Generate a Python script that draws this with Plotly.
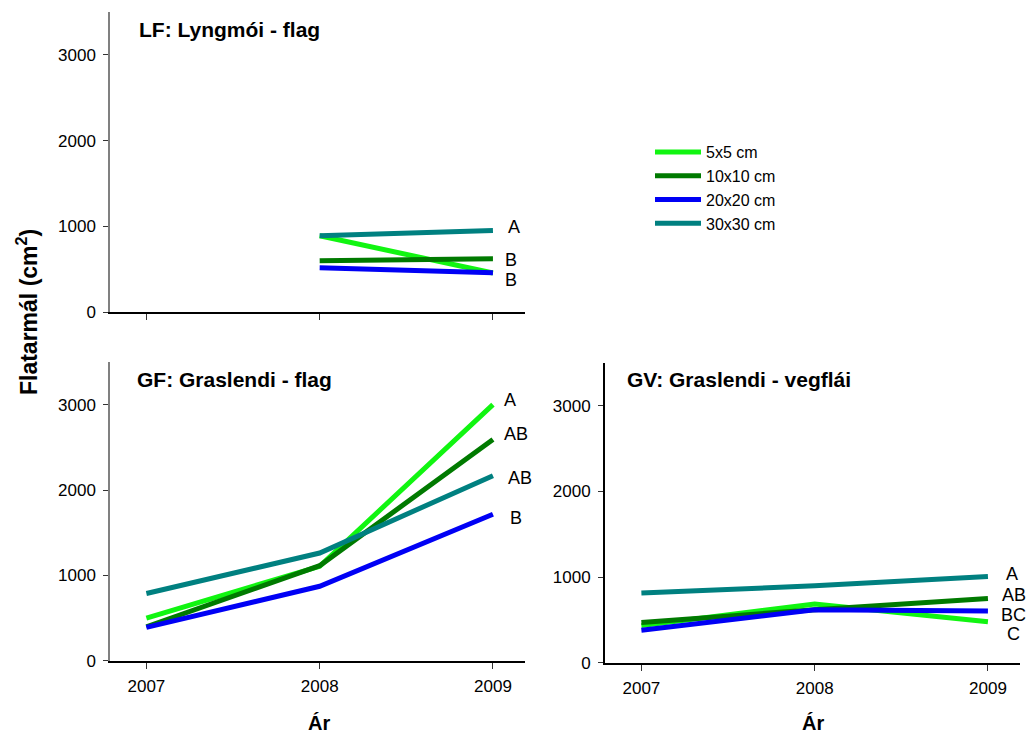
import plotly.graph_objects as go

years = [2007, 2008, 2009]
series_names = ["5x5 cm", "10x10 cm", "20x20 cm", "30x30 cm"]
series_colors = ["#11F511", "#007A00", "#0000F5", "#008080"]

# LF: Lyngmói - flag (no 2007 data)
lf_5 = [None, 890, 455]
lf_10 = [None, 598, 622]
lf_20 = [None, 517, 459]
lf_30 = [None, 890, 952]

# GF: Graslendi - flag
gf_5 = [501, 1108, 3000]
gf_10 = [400, 1115, 2592]
gf_20 = [393, 874, 1718]
gf_30 = [789, 1263, 2169]

# GV: Graslendi - vegflái
gv_5 = [435, 687, 481]
gv_10 = [473, 621, 753]
gv_20 = [380, 621, 605]
gv_30 = [815, 900, 1009]

# significance letters (text, y-position) beside 2009 endpoints
lf_letters = ["A", "B", "B"]
lf_letter_y = [990, 602, 369]
gf_letters = ["A", "AB", "AB", "B"]
gf_letter_y = [3059, 2662, 2138, 1671]
gv_letters = ["A", "AB", "BC", "C"]
gv_letter_y = [1036, 796, 559, 341]

panel_titles = ["LF: Lyngmói - flag", "GF: Graslendi - flag", "GV: Graslendi - vegflái"]

FONT = "Arial, Liberation Sans, Helvetica, sans-serif"
OFF = 8            # default page body margin
VIEW_H = 748       # effective viewport height
SY = 738 / VIEW_H  # vertical scale of the captured picture
W, H = 1034 - 2 * OFF, VIEW_H - 2 * OFF

fig = go.Figure()

panels = [
    ("x", "y", [lf_5, lf_10, lf_20, lf_30], True),
    ("x2", "y2", [gf_5, gf_10, gf_20, gf_30], False),
    ("x3", "y3", [gv_5, gv_10, gv_20, gv_30], False),
]
for xa, ya, data, show in panels:
    for name, col, vals in zip(series_names, series_colors, data):
        fig.add_trace(go.Scatter(
            x=years, y=vals, mode="lines", name=name,
            line=dict(color=col, width=5),
            xaxis=xa, yaxis=ya, showlegend=show, connectgaps=False,
            hoverinfo="skip"))


def px_x(p):
    return (p - OFF) / W


def px_y(p):
    return 1 - (p / SY - OFF) / H


dom_left = [px_x(110), px_x(525)]
dom_right = [px_x(605), px_x(1020)]
dom_top = [px_y(312), px_y(12)]
dom_bl = [px_y(661), px_y(362)]
dom_br = [px_y(663), px_y(363)]

xr = [2006.79, 2009.185]
yr = [0, 3500]
TICKSIZE = 17


def xaxis(domain, anchor, labels=True):
    return dict(domain=domain, anchor=anchor, range=xr, tickvals=years,
                showticklabels=labels,
                showline=True, linecolor="black", linewidth=2,
                ticks="outside", ticklen=6, tickcolor="#333", tickwidth=1,
                ticklabelstandoff=3,
                showgrid=False, zeroline=False,
                tickfont=dict(family=FONT, size=TICKSIZE, color="black"))


def yaxis(domain, anchor, lc, lw):
    return dict(domain=domain, anchor=anchor, range=yr,
                tickvals=[0, 1000, 2000, 3000],
                showline=True, linecolor=lc, linewidth=lw,
                ticks="outside", ticklen=5, tickcolor="#333", tickwidth=1,
                ticklabelstandoff=4,
                showgrid=False, zeroline=False,
                tickfont=dict(family=FONT, size=TICKSIZE, color="black"))


fig.update_layout(
    width=W, height=H,
    margin=dict(l=0, r=0, t=0, b=0),
    paper_bgcolor="white", plot_bgcolor="white",
    font=dict(family=FONT, color="black"),
    xaxis=xaxis(dom_left, "y", labels=False),
    yaxis=yaxis(dom_top, "x", "#808080", 1.5),
    xaxis2=xaxis(dom_left, "y2"),
    yaxis2=yaxis(dom_bl, "x2", "#808080", 1.5),
    xaxis3=xaxis(dom_right, "y3"),
    yaxis3=yaxis(dom_br, "x3", "black", 2),
    legend=dict(x=px_x(650), y=px_y(135), xanchor="left", yanchor="top",
                font=dict(family=FONT, size=16, color="black"),
                bgcolor="rgba(0,0,0,0)", tracegroupgap=0, itemwidth=46),
    showlegend=True,
)

annotations = []
# panel titles
for title, xp, yp in [(panel_titles[0], 137, 29), (panel_titles[1], 135, 380), (panel_titles[2], 625, 380)]:
    annotations.append(dict(text="<b>%s</b>" % title, xref="paper", yref="paper",
                            x=px_x(xp), y=px_y(yp), xanchor="left", yanchor="middle",
                            showarrow=False, font=dict(family=FONT, size=21, color="black")))

# significance letters
for xa, ya, letters, ys, xoffs in [
    ("x", "y", lf_letters, lf_letter_y, [21, 18, 18]),
    ("x2", "y2", gf_letters, gf_letter_y, [17, 23, 27, 23]),
    ("x3", "y3", gv_letters, gv_letter_y, [24, 26, 26, 26]),
]:
    for t, yv, xo in zip(letters, ys, xoffs):
        annotations.append(dict(text=t, xref=xa, yref=ya, x=2009, y=yv,
                                xshift=xo, xanchor="center", yanchor="middle",
                                showarrow=False, font=dict(family=FONT, size=18, color="black")))

# axis titles
annotations.append(dict(text="<b>Flatarmál (cm<sup>2</sup>)</b>", xref="paper", yref="paper",
                        x=px_x(27), y=px_y(312), textangle=-90, xanchor="center", yanchor="middle",
                        showarrow=False, font=dict(family=FONT, size=23, color="black")))
for xp in [319, 813]:
    annotations.append(dict(text="<b>Ár</b>", xref="paper", yref="paper",
                            x=px_x(xp), y=px_y(723), xanchor="center", yanchor="middle",
                            showarrow=False, font=dict(family=FONT, size=20, color="black")))

fig.update_layout(annotations=annotations)

fig.write_html("out.html")
